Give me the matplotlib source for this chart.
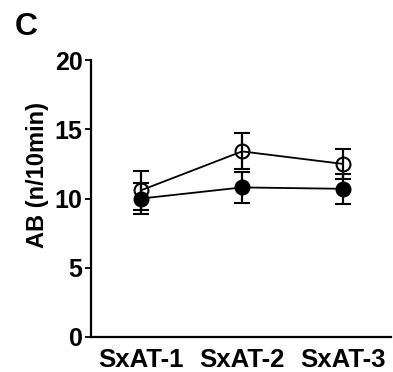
import matplotlib.pyplot as plt

# data
groups = ["SxAT-1", "SxAT-2", "SxAT-3"]
filled_mean = [10.0, 10.8, 10.7]
filled_err = [1.1, 1.1, 1.1]
open_mean = [10.6, 13.4, 12.5]
open_err = [1.4, 1.3, 1.1]

plt.rcParams["font.family"] = ["Liberation Sans", "DejaVu Sans"]
plt.rcParams["font.weight"] = "bold"

fig = plt.figure(figsize=(3.93, 3.72), dpi=100)
ax = fig.add_axes([91 / 393, 1 - 337 / 372, 300 / 393, 277 / 372])

x = list(range(len(groups)))
style = dict(color="black", lw=1.3, elinewidth=1.6, capsize=6, capthick=1.6,
             markersize=10, markeredgewidth=1.5)
ax.errorbar(x, filled_mean, yerr=filled_err, fmt="-o", mfc="black", mec="black",
            zorder=3, **style)
ax.errorbar(x, open_mean, yerr=open_err, fmt="-o", mfc="none", mec="black",
            zorder=4, **style)

ax.set_xlim(-0.5, 2.48)
ax.set_ylim(0, 20)
ax.set_yticks([0, 5, 10, 15, 20])
ax.set_xticks(x)
ax.set_xticklabels(groups)
for s in ["top", "right"]:
    ax.spines[s].set_visible(False)
for s in ["left", "bottom"]:
    ax.spines[s].set_linewidth(1.6)
ax.tick_params(axis="y", length=4, width=1.3, labelsize=18, pad=2)
ax.tick_params(axis="x", length=0, labelsize=18.5, pad=8)
ax.set_ylabel("AB (n/10min)", fontsize=17, fontweight="bold")
ax.yaxis.set_label_coords(-0.14, 0.585)

fig.text(15 / 393, 1 - 27 / 372, "C", fontsize=23, fontweight="bold",
         ha="left", va="center")

fig.savefig("out.png", dpi=100)
